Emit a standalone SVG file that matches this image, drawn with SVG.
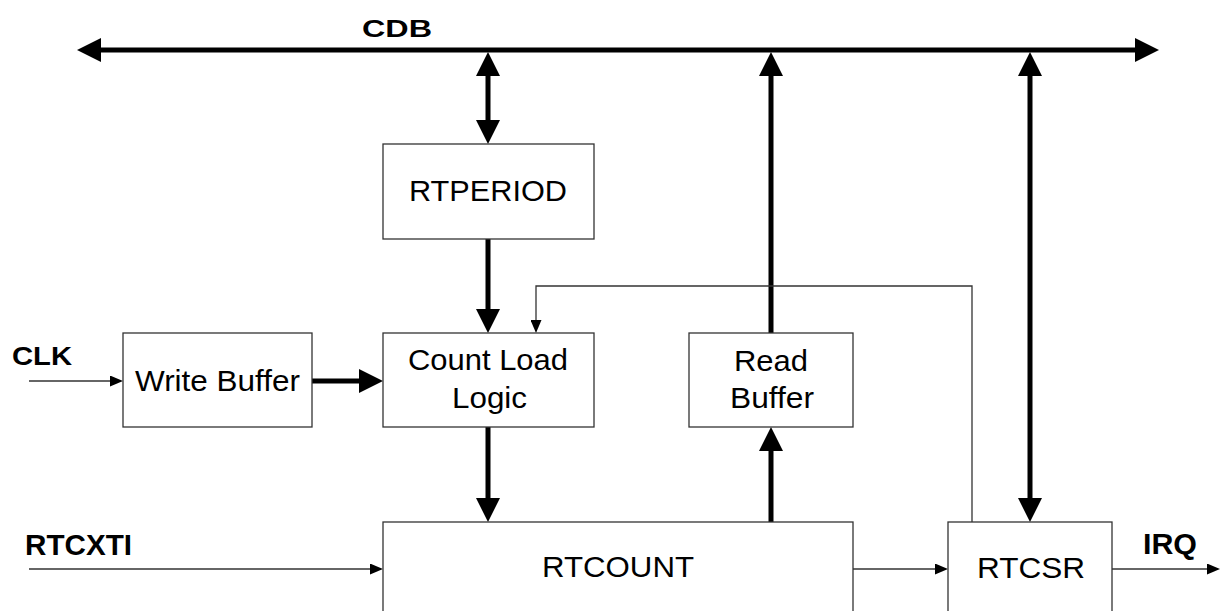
<svg xmlns="http://www.w3.org/2000/svg" width="1220" height="611" viewBox="0 0 1220 611">
  <style>
    .box { fill: #ffffff; stroke: #333333; stroke-width: 1.3; }
    .lbl { font-family: "Liberation Sans", Arial, sans-serif; font-size: 30px; fill: #000000; }
    .sig { font-family: "Liberation Sans", Arial, sans-serif; font-weight: bold; fill: #000000; }
    .bus { fill: none; stroke: #000000; stroke-width: 5; stroke-linecap: round; }
    .wire { fill: none; stroke: #333333; stroke-width: 1.3; }
  </style>
  <defs>
    <marker id="bigHead" viewBox="0 0 24 24" markerWidth="24" markerHeight="24" markerUnits="userSpaceOnUse" refX="0" refY="12" orient="auto-start-reverse">
      <path d="M0,0 L24,12 L0,24 Z" fill="#000000"/>
    </marker>
    <marker id="smallHead" viewBox="0 0 13 11" markerWidth="13" markerHeight="11" markerUnits="userSpaceOnUse" refX="0" refY="5.5" orient="auto">
      <path d="M0,0 L13,5.5 L0,11 Z" fill="#000000"/>
    </marker>
  </defs>
  <rect width="1220" height="611" fill="#ffffff"/>

  <!-- connectors -->
  <g id="connectors">
    <!-- CDB data bus -->
    <line class="bus" x1="101" y1="50" x2="1135" y2="50" marker-start="url(#bigHead)" marker-end="url(#bigHead)"/>
    <!-- RTPERIOD <-> CDB -->
    <line class="bus" x1="488" y1="76" x2="488" y2="120" marker-start="url(#bigHead)" marker-end="url(#bigHead)"/>
    <!-- RTPERIOD -> Count Load Logic -->
    <line class="bus" x1="488" y1="239" x2="488" y2="309" marker-end="url(#bigHead)"/>
    <!-- Read Buffer -> CDB -->
    <line class="bus" x1="771" y1="333" x2="771" y2="76" marker-end="url(#bigHead)"/>
    <!-- RTCSR <-> CDB -->
    <line class="bus" x1="1030" y1="76" x2="1030" y2="498" marker-start="url(#bigHead)" marker-end="url(#bigHead)"/>
    <!-- Write Buffer -> Count Load Logic -->
    <line class="bus" x1="312" y1="381" x2="359" y2="381" marker-end="url(#bigHead)"/>
    <!-- Count Load Logic -> RTCOUNT -->
    <line class="bus" x1="488" y1="427" x2="488" y2="498" marker-end="url(#bigHead)"/>
    <!-- RTCOUNT -> Read Buffer -->
    <line class="bus" x1="771" y1="522" x2="771" y2="451" marker-end="url(#bigHead)"/>

    <!-- single-bit signals -->
    <line class="wire" x1="29" y1="381" x2="110" y2="381" marker-end="url(#smallHead)"/>
    <line class="wire" x1="29" y1="569" x2="370" y2="569" marker-end="url(#smallHead)"/>
    <line class="wire" x1="853" y1="569" x2="935" y2="569" marker-end="url(#smallHead)"/>
    <line class="wire" x1="1112" y1="569" x2="1207" y2="569" marker-end="url(#smallHead)"/>
    <!-- RTCSR feedback to Count Load Logic -->
    <path class="wire" d="M972,522 L972,286 L536,286 L536,320" marker-end="url(#smallHead)"/>
  </g>

  <!-- bus and signal labels -->
  <text class="sig" x="362" y="37" font-size="24" textLength="70" lengthAdjust="spacingAndGlyphs">CDB</text>
  <text class="sig" x="12" y="365" font-size="25" textLength="60" lengthAdjust="spacingAndGlyphs">CLK</text>
  <text class="sig" x="25" y="555" font-size="29" textLength="107" lengthAdjust="spacingAndGlyphs">RTCXTI</text>
  <text class="sig" x="1143" y="554" font-size="29" textLength="54" lengthAdjust="spacingAndGlyphs">IRQ</text>

  <g id="rtperiod">
    <rect class="box" x="383" y="144" width="211" height="95"/>
    <text class="lbl" x="409" y="201" textLength="158" lengthAdjust="spacingAndGlyphs">RTPERIOD</text>
  </g>

  <g id="write-buffer">
    <rect class="box" x="123" y="333" width="189" height="94"/>
    <text class="lbl" x="135" y="391" textLength="165" lengthAdjust="spacingAndGlyphs">Write Buffer</text>
  </g>

  <g id="count-load-logic">
    <rect class="box" x="383" y="333" width="211" height="94"/>
    <text class="lbl" x="408" y="370" textLength="160" lengthAdjust="spacingAndGlyphs">Count Load</text>
    <text class="lbl" x="452" y="408" textLength="75" lengthAdjust="spacingAndGlyphs">Logic</text>
  </g>

  <g id="read-buffer">
    <rect class="box" x="689" y="333" width="164" height="94"/>
    <text class="lbl" x="734" y="371" textLength="74" lengthAdjust="spacingAndGlyphs">Read</text>
    <text class="lbl" x="730" y="408" textLength="84" lengthAdjust="spacingAndGlyphs">Buffer</text>
  </g>

  <g id="rtcount">
    <rect class="box" x="383" y="522" width="470" height="100"/>
    <text class="lbl" x="542" y="577" textLength="152" lengthAdjust="spacingAndGlyphs">RTCOUNT</text>
  </g>

  <g id="rtcsr">
    <rect class="box" x="948" y="522" width="164" height="100"/>
    <text class="lbl" x="977" y="578" textLength="108" lengthAdjust="spacingAndGlyphs">RTCSR</text>
  </g>
</svg>
